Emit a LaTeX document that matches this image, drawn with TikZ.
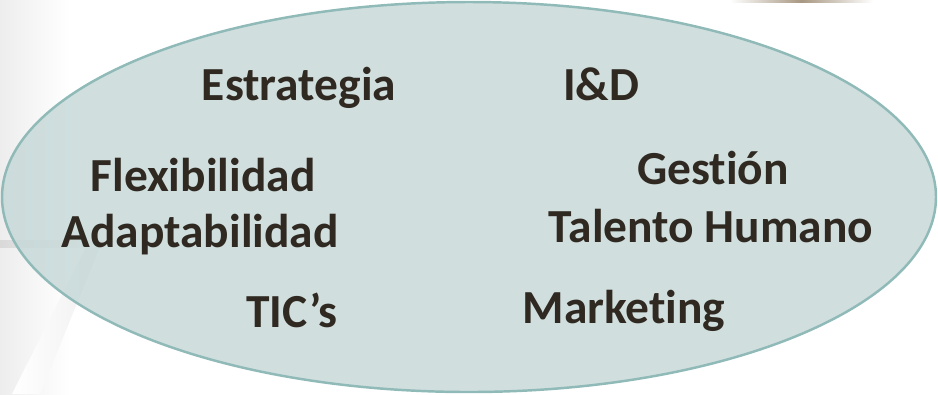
\documentclass[tikz,border=0pt]{standalone}
\usepackage{fontspec}
\setmainfont{Carlito}[RawFeature={-liga;-clig;-dlig}]
\usepackage{tikz}
\usetikzlibrary{calc}
\usetikzlibrary{math}
\definecolor{hoja}{RGB}{196,214,214}
\definecolor{borde}{RGB}{143,186,184}
\definecolor{tinta}{RGB}{47,41,33}
\definecolor{arena}{RGB}{168,152,130}
\tikzset{
  tema/.style={anchor=base, text=tinta, font=\fontsize{13.5}{16}\selectfont\bfseries, inner sep=0pt},
}
\begin{document}
\begin{tikzpicture}
            \tikzmath{\rx = 4.67; \ry = 1.95;}
                \useasboundingbox (0,0) rectangle (9.38,3.94);
                % fondo
                \shade[left color=gray!14, right color=white] (0,0) rectangle (0.7,3.94);
                \shade[left color=gray!30, right color=white] (0,1.47) rectangle (1.1,1.54);
                \shade[left color=white, right color=gray!12] (0.12,0) -- (0.86,1.47) -- (1.0,1.47) -- (0.40,0) -- cycle;
                \shade[left color=white, right color=white, middle color=arena] (7.30,3.94) rectangle (8.73,3.92);
                % elipse
                \coordinate (O) at (4.69,1.97);
                \draw[draw=borde, line width=0.7pt, fill=hoja, fill opacity=0.8] (O) ellipse ({\rx} and {\ry});
                % textos
                \node[tema] (estrategia) at (2.99,2.94) {Estrategia};
                \node[tema] (id) at (6.01,2.94) {I\&D};
                \node[tema] (flex) at (2.03,2.03) {Flexibilidad};
                \node[tema] (adapt) at (2.00,1.47) {Adaptabilidad};
                \node[tema] (gestion) at (7.13,2.10) {Gestión};
                \node[tema] (talento) at (7.11,1.52) {Talento Humano};
                \node[tema] (tic) at (2.92,0.67) {TIC’s};
                \node[tema] (marketing) at (6.24,0.71) {Marketing};
            \end{tikzpicture}
\end{document}
